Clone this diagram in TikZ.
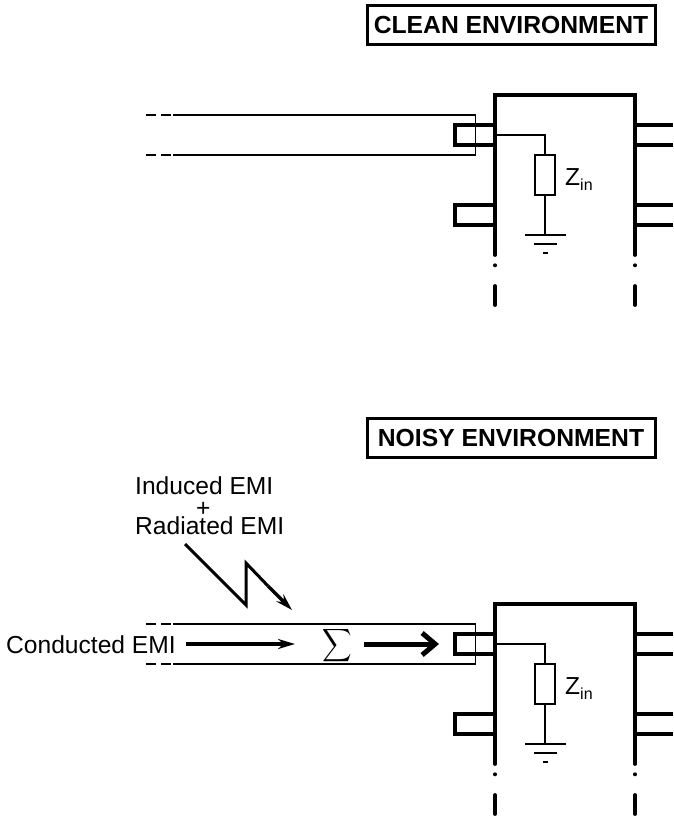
\documentclass[tikz,border=0pt]{standalone}
\usepackage{fontspec}
\setmainfont{Liberation Sans}
\usepackage{tikz}
\usetikzlibrary{arrows.meta,positioning}

\begin{document}
\begin{tikzpicture}[
  x=1pt, y=-1pt,
  banner/.style={draw, line width=3pt, minimum width=288pt, minimum height=39pt, inner sep=0pt,
    font=\fontsize{24.7}{26}\selectfont\bfseries},
  chipwall/.style={line width=3.8pt, line cap=round},
  pin/.style={line width=3.6pt},
  thinwire/.style={line width=1.1pt},
  impedance/.style={draw, line width=1.1pt, minimum width=20pt, minimum height=40pt, inner sep=0pt},
  textlabel/.style={font=\fontsize{24.6}{20}\selectfont, inner sep=0pt},
  emi/.style={line width=3.2pt, -{Stealth[length=17pt,width=10pt]}},
  sumout/.style={line width=5pt, -{Straight Barb[length=13pt,width=22pt,line width=5pt]}}
]
\useasboundingbox (0,0) rectangle (673,817);

\node[banner] (cleanbox) at (511,25) {CLEAN ENVIRONMENT};
\node[banner] (noisybox) at (511,437.5) {NOISY ENVIRONMENT};

% same chip and line in both halves
\foreach \Y/\name in {0/clean,509/noisy}{
  \begin{scope}[yshift=-\Y pt]
    \draw[chipwall] (495,255) -- (495,95) -- (635,95) -- (635,255);
    \foreach \x in {495,635}{
      \fill (\x,265.3) circle (2pt);
      \draw[chipwall] (\x,286) -- (\x,305);
    }
    \foreach \p in {125,205}{
      \draw[pin] (495,\p) -- (455,\p) -- (455,\p+20) -- (495,\p+20);
      \draw[pin] (635,\p) -- (673,\p);
      \draw[pin] (635,\p+20) -- (673,\p+20);
    }
    % the line, open at its far end
    \draw[thinwire] (172.5,115) -- (475.5,115) -- (475.5,155) -- (172.5,155);
    \foreach \c in {115,155}{
      \draw[thinwire] (146,\c) -- (156,\c);
      \draw[thinwire] (161,\c) -- (171,\c);
    }
    \coordinate (pad\name) at (497,135);
    \node[impedance] (z\name) at (545,175) {};
    \coordinate (gnd\name) at (545,235);
    \draw[thinwire] (pad\name) -| (z\name.north);
    \draw[thinwire] (z\name.south) -- (gnd\name);
    \draw[thinwire] (525,235) -- (566,235);
    \draw[thinwire] (533.5,244) -- (557,244);
    \draw[thinwire] (543,253) -- (548,253);
    \node[textlabel, anchor=base west] (zlabel\name) at (565,185) {Z\raisebox{-5.5pt}{\fontsize{16}{16}\selectfont in}};
  \end{scope}
}

\node[textlabel, align=left, anchor=west] (induced) at (135,506) {Induced EMI\\[2pt]\hspace*{61pt}+\\[-2pt]Radiated EMI};
\node[textlabel, anchor=base west] (conducted) at (6,653) {Conducted EMI};
\node[xscale=2.05, yscale=2.3, inner sep=0pt] (sigma) at (337.5,646) {$\displaystyle\sum$};
\coordinate (strikea) at (246,605);
\coordinate (strikeb) at (246,563);
\coordinate (striketip) at (292,610);
\coordinate (strikestart) at (185,544);
\coordinate (conductedtip) at (295,644);
\coordinate (outtip) at (439,644);

\draw[line width=3pt, miter limit=20] (strikestart) -- (strikea) -- (strikeb) -- (268,586);
\draw[emi] (268,586) -- (striketip);
\draw[emi] (conducted.east |- conductedtip) ++(10,0) -- (conductedtip);
\draw[sumout] (sigma.east) ++(11,-2) -- (outtip);
\end{tikzpicture}
\end{document}
